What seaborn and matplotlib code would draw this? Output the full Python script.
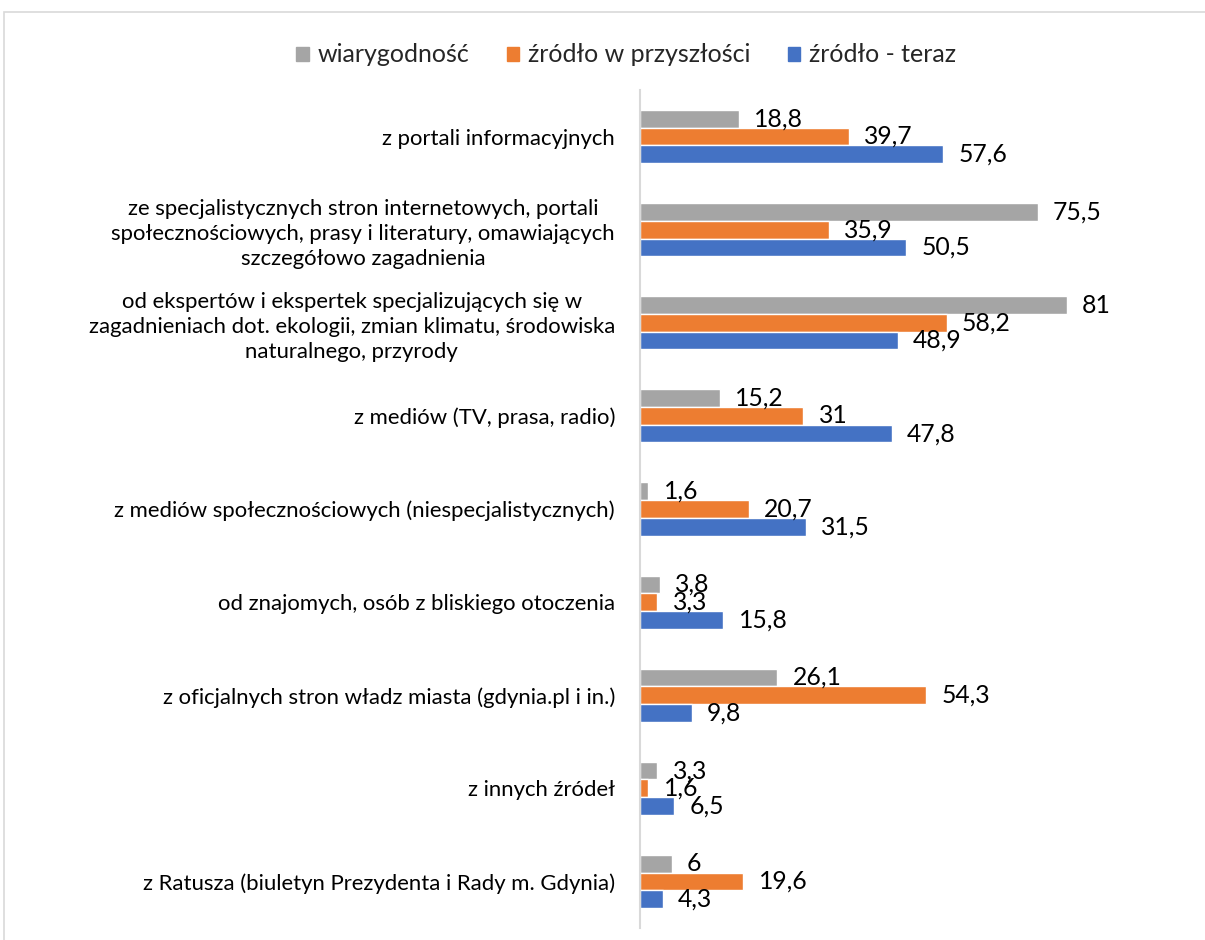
import matplotlib
matplotlib.use("Agg")
import matplotlib.pyplot as plt
import seaborn as sns
import pandas as pd
from matplotlib.patches import Rectangle

categories = [
    "z portali informacyjnych",
    "ze specjalistycznych stron internetowych, portali\nspołecznościowych, prasy i literatury, omawiających\nszczegółowo zagadnienia",
    "od ekspertów i ekspertek specjalizujących się w\nzagadnieniach dot. ekologii, zmian klimatu, środowiska\nnaturalnego, przyrody",
    "z mediów (TV, prasa, radio)",
    "z mediów społecznościowych (niespecjalistycznych)",
    "od znajomych, osób z bliskiego otoczenia",
    "z oficjalnych stron władz miasta (gdynia.pl i in.)",
    "z innych źródeł",
    "z Ratusza (biuletyn Prezydenta i Rady m. Gdynia)",
]
series_names = ["wiarygodność", "źródło w przyszłości", "źródło - teraz"]
wiarygodnosc = [18.8, 75.5, 81, 15.2, 1.6, 3.8, 26.1, 3.3, 6]
zrodlo_przyszlosc = [39.7, 35.9, 58.2, 31, 20.7, 3.3, 54.3, 1.6, 19.6]
zrodlo_teraz = [57.6, 50.5, 48.9, 47.8, 31.5, 15.8, 9.8, 6.5, 4.3]
colors = ["#A5A5A5", "#ED7D31", "#4472C4"]

rows = []
for name, vals in zip(series_names, [wiarygodnosc, zrodlo_przyszlosc, zrodlo_teraz]):
    for c, v in zip(categories, vals):
        rows.append({"kategoria": c, "seria": name, "wartosc": v})
df = pd.DataFrame(rows)

sns.set_theme(style="white")
plt.rcParams["font.family"] = ["Lato", "DejaVu Sans"]

W, H = 1205, 940
fig = plt.figure(figsize=(W / 100, H / 100), dpi=100)
ax = fig.add_axes([640 / W, 1 - 928 / H, 553 / W, (928 - 90) / H])

sns.barplot(data=df, y="kategoria", x="wartosc", hue="seria", order=categories,
            hue_order=series_names, palette=colors, orient="h", width=0.57,
            saturation=1, ax=ax, legend=False)

ax.set_xlim(0, 105)
ax.set_ylim(8.5, -0.5)
ax.set_xlabel("")
ax.set_ylabel("")
ax.set_xticks([])
for s in ["top", "right", "bottom"]:
    ax.spines[s].set_visible(False)
ax.spines["left"].set_color("#D9D9D9")
ax.spines["left"].set_linewidth(1.5)
ax.tick_params(axis="y", length=0, pad=18, labelsize=15.9, colors="#000000")
for t in ax.get_yticklabels():
    t.set_multialignment("center")
    t.set_linespacing(1.32)

def fmt(v):
    if float(v).is_integer():
        return str(int(v))
    return str(v).replace(".", ",")

all_vals = [wiarygodnosc, zrodlo_przyszlosc, zrodlo_teraz]
for cont, vals in zip(ax.containers, all_vals):
    ax.bar_label(cont, labels=[fmt(v) for v in vals], padding=11, fontsize=17.8,
                 color="#000000")

handles = [Rectangle((0, 0), 1, 1, color=c) for c in colors]
fig.legend(handles, series_names, loc="center", bbox_to_anchor=(626 / W, 1 - 55 / H),
           ncol=3, frameon=False, fontsize=18, handlelength=0.5, handleheight=0.5,
           handletextpad=0.35, columnspacing=1.5)

fig.patches.append(Rectangle((4 / W, -0.01), 1.1, 1 - 12 / H + 0.01, transform=fig.transFigure,
                             fill=False, edgecolor="#D9D9D9", linewidth=1.2))

fig.savefig("out.png", dpi=100)
